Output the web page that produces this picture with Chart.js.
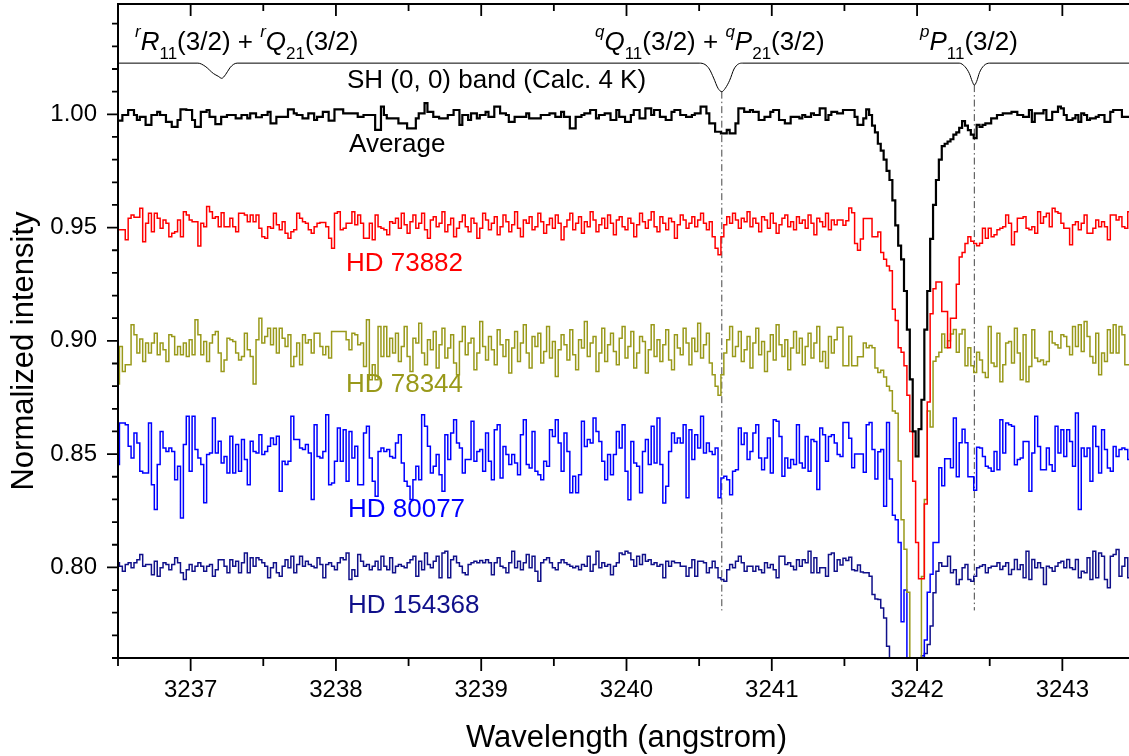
<!DOCTYPE html>
<html><head><meta charset="utf-8">
<script src="https://cdn.jsdelivr.net/npm/chart.js@4/dist/chart.umd.min.js"></script>
<style>html,body{margin:0;padding:0;background:#fff;overflow:hidden;}#wrap{width:1140px;height:756px;}</style>
</head><body><div id="wrap"><canvas id="c" width="1140" height="756"></canvas></div>
<script>
// ---- wavelength grid of the spectra (angstrom) ----
const waveStart = 3236.5;
const waveStep = 0.02;

// ---- spectra (normalized intensity), one value per grid step ----
const average = [
0.9972,0.9972,0.9997,0.9997,1.0019,1.0019,0.9997,0.9975,0.9989,0.9989,0.9953,0.9953,0.9997,0.9997,1.0011,0.9997,0.9997,0.9967,0.9967,0.9945,
0.9945,0.9975,1.0022,1.0022,1.0019,1.0019,0.9975,0.9945,0.9945,1.0011,1.0011,1.0019,0.9989,0.9989,0.9957,0.9957,0.9989,0.9989,0.9997,0.9997,
0.9997,0.9982,0.9982,0.9997,0.9997,0.9982,1.0004,1.0004,0.9987,0.9987,0.9997,0.9997,1.0011,0.9960,0.9960,0.9989,0.9989,0.9989,0.9989,1.0022,
1.0022,1.0004,0.9997,0.9997,0.9982,0.9982,1.0004,1.0004,0.9975,0.9989,0.9989,1.0011,1.0011,0.9972,0.9972,1.0022,1.0022,1.0022,1.0004,1.0004,
1.0004,1.0004,1.0004,0.9989,0.9989,0.9997,0.9997,0.9997,0.9997,0.9931,0.9931,1.0034,0.9997,0.9982,0.9982,0.9982,0.9982,0.9960,0.9960,0.9960,
0.9938,0.9938,0.9938,0.9982,1.0004,1.0004,1.0049,1.0011,1.0011,0.9989,0.9989,0.9982,0.9982,0.9982,0.9997,0.9997,1.0019,1.0019,0.9953,0.9997,
0.9997,0.9975,1.0004,1.0004,0.9982,0.9997,0.9997,1.0011,0.9989,0.9989,1.0034,1.0034,1.0004,1.0004,0.9997,0.9967,0.9967,0.9989,0.9989,0.9989,
0.9989,1.0004,0.9982,0.9982,0.9982,0.9982,0.9997,0.9997,0.9997,1.0004,1.0004,0.9989,0.9989,1.0011,0.9989,0.9989,0.9938,0.9938,0.9989,0.9989,
0.9997,1.0004,1.0004,1.0019,1.0019,0.9982,0.9997,0.9997,1.0004,1.0004,0.9975,0.9975,1.0019,0.9989,0.9989,0.9967,0.9967,0.9997,1.0019,1.0019,
0.9982,0.9982,1.0026,1.0026,0.9997,1.0019,1.0019,0.9989,0.9989,0.9975,0.9975,1.0011,1.0019,1.0019,0.9997,0.9997,0.9989,0.9989,0.9997,1.0004,
1.0004,1.0034,1.0034,1.0004,0.9960,0.9960,0.9923,0.9923,0.9916,0.9916,0.9931,0.9916,0.9916,0.9960,1.0026,1.0026,1.0011,1.0011,1.0019,1.0011,
1.0011,0.9975,0.9975,0.9989,0.9989,1.0011,1.0019,1.0019,0.9975,0.9975,0.9960,0.9960,0.9989,0.9989,0.9989,0.9982,0.9997,0.9989,0.9989,1.0004,
0.9997,0.9997,1.0026,1.0026,0.9975,0.9997,1.0011,1.0011,1.0004,1.0004,1.0019,1.0019,1.0019,1.0019,0.9989,0.9953,0.9953,0.9982,1.0022,0.9997,
0.9950,0.9920,0.9870,0.9840,0.9800,0.9750,0.9710,0.9620,0.9510,0.9420,0.9360,0.9220,0.9050,0.8830,0.8600,0.8490,0.8610,0.8740,0.9050,0.9220,
0.9450,0.9600,0.9710,0.9800,0.9860,0.9870,0.9880,0.9890,0.9910,0.9920,0.9940,0.9970,0.9950,0.9930,0.9910,0.9895,0.9953,0.9945,0.9953,0.9960,
0.9960,0.9982,0.9982,0.9997,0.9997,1.0004,1.0004,1.0004,1.0011,1.0011,0.9997,0.9997,0.9989,0.9989,1.0019,0.9967,1.0004,1.0004,1.0004,1.0019,
0.9975,0.9975,1.0011,1.0011,1.0034,1.0026,0.9997,0.9975,0.9975,0.9982,0.9997,0.9967,1.0004,0.9997,0.9975,0.9982,0.9982,0.9989,0.9997,0.9997,
0.9967,0.9967,1.0011,1.0019,1.0019,1.0019,0.9989,0.9989,0.9989];

const hd73882 = [
0.9490,0.9490,0.9490,0.9446,0.9541,0.9556,0.9546,0.9546,0.9585,0.9438,0.9519,0.9563,0.9482,0.9563,0.9541,0.9497,0.9534,0.9519,0.9460,0.9475,
0.9482,0.9534,0.9460,0.9570,0.9556,0.9534,0.9526,0.9526,0.9419,0.9519,0.9504,0.9593,0.9570,0.9541,0.9548,0.9504,0.9566,0.9504,0.9504,0.9541,
0.9504,0.9482,0.9563,0.9563,0.9556,0.9526,0.9556,0.9526,0.9556,0.9497,0.9460,0.9453,0.9504,0.9497,0.9563,0.9512,0.9490,0.9526,0.9475,0.9453,
0.9482,0.9490,0.9563,0.9541,0.9526,0.9519,0.9490,0.9475,0.9504,0.9519,0.9522,0.9522,0.9504,0.9453,0.9409,0.9563,0.9570,0.9490,0.9497,0.9519,
0.9519,0.9570,0.9512,0.9556,0.9519,0.9453,0.9453,0.9519,0.9446,0.9556,0.9504,0.9497,0.9490,0.9468,0.9526,0.9519,0.9541,0.9497,0.9563,0.9512,
0.9475,0.9526,0.9556,0.9497,0.9519,0.9563,0.9490,0.9453,0.9534,0.9548,0.9504,0.9519,0.9570,0.9482,0.9512,0.9541,0.9460,0.9497,0.9526,0.9556,
0.9504,0.9482,0.9541,0.9519,0.9453,0.9497,0.9563,0.9534,0.9490,0.9519,0.9548,0.9468,0.9504,0.9556,0.9526,0.9482,0.9512,0.9570,0.9497,0.9460,
0.9534,0.9519,0.9548,0.9490,0.9504,0.9563,0.9526,0.9475,0.9512,0.9541,0.9497,0.9556,0.9519,0.9446,0.9504,0.9534,0.9563,0.9490,0.9519,0.9548,
0.9475,0.9526,0.9504,0.9570,0.9534,0.9482,0.9512,0.9541,0.9497,0.9556,0.9519,0.9468,0.9534,0.9548,0.9504,0.9490,0.9541,0.9519,0.9460,0.9512,
0.9563,0.9526,0.9497,0.9534,0.9570,0.9504,0.9482,0.9548,0.9519,0.9490,0.9541,0.9526,0.9453,0.9512,0.9556,0.9534,0.9497,0.9519,0.9548,0.9504,
0.9534,0.9563,0.9519,0.9490,0.9526,0.9460,0.9409,0.9380,0.9460,0.9512,0.9548,0.9519,0.9563,0.9534,0.9497,0.9541,0.9526,0.9570,0.9504,0.9541,
0.9519,0.9482,0.9548,0.9534,0.9497,0.9563,0.9519,0.9475,0.9512,0.9541,0.9556,0.9504,0.9526,0.9490,0.9548,0.9519,0.9534,0.9497,0.9556,0.9519,
0.9468,0.9541,0.9526,0.9504,0.9563,0.9490,0.9534,0.9512,0.9534,0.9534,0.9510,0.9530,0.9587,0.9565,0.9430,0.9400,0.9450,0.9540,0.9540,0.9540,
0.9460,0.9460,0.9480,0.9390,0.9360,0.9330,0.9310,0.9140,0.9090,0.8970,0.8950,0.8890,0.8760,0.8600,0.8380,0.8110,0.7950,0.7950,0.8280,0.8730,
0.9120,0.9230,0.9260,0.9260,0.9130,0.9130,0.8970,0.9100,0.9100,0.9250,0.9370,0.9390,0.9430,0.9460,0.9440,0.9430,0.9420,0.9431,0.9497,0.9453,
0.9497,0.9460,0.9468,0.9490,0.9497,0.9504,0.9556,0.9519,0.9424,0.9482,0.9541,0.9541,0.9548,0.9497,0.9490,0.9504,0.9475,0.9570,0.9519,0.9548,
0.9563,0.9504,0.9585,0.9570,0.9563,0.9519,0.9497,0.9497,0.9424,0.9512,0.9526,0.9490,0.9519,0.9556,0.9475,0.9475,0.9497,0.9534,0.9504,0.9526,
0.9504,0.9446,0.9556,0.9556,0.9534,0.9548,0.9504,0.9497,0.9570];

const hd78344 = [
0.8810,0.8975,0.8865,0.8894,0.8894,0.9071,0.9027,0.8946,0.9008,0.8909,0.8990,0.8946,0.8990,0.9034,0.8939,0.8990,0.8961,0.8909,0.9027,0.9019,
0.8939,0.8975,0.8939,0.8990,0.8931,0.9005,0.8939,0.9093,0.9027,0.8939,0.8997,0.8909,0.8990,0.9027,0.9041,0.8946,0.8865,0.8916,0.9012,0.9005,
0.8997,0.8946,0.8916,0.8931,0.9034,0.8961,0.8931,0.8810,0.9005,0.9100,0.8990,0.9019,0.9056,0.8983,0.9056,0.8946,0.9056,0.9012,0.8975,0.9027,
0.8887,0.8931,0.8990,0.8894,0.9027,0.8990,0.9005,0.8946,0.9034,0.9034,0.8975,0.8939,0.8975,0.8924,0.9041,0.9041,0.9041,0.9041,0.9041,0.9005,
0.8961,0.9034,0.9027,0.8983,0.8990,0.8887,0.9093,0.8828,0.8894,0.8828,0.9063,0.8931,0.9063,0.8931,0.9012,0.8946,0.9034,0.8909,0.8975,0.9063,
0.8931,0.8865,0.9012,0.8990,0.9078,0.8946,0.8894,0.9005,0.8961,0.9041,0.8880,0.8983,0.9056,0.8924,0.8968,0.9027,0.8902,0.8850,0.8997,0.9063,
0.8939,0.8990,0.9012,0.8872,0.8946,0.9085,0.8975,0.8916,0.9019,0.8961,0.8894,0.9049,0.8983,0.8931,0.9005,0.8858,0.8968,0.9041,0.8909,0.8990,
0.9071,0.8946,0.8880,0.9019,0.8975,0.9034,0.8902,0.8953,0.9063,0.8924,0.8997,0.8843,0.8961,0.9027,0.8983,0.8916,0.9049,0.8939,0.8872,0.9005,
0.8968,0.9085,0.8931,0.8990,0.9019,0.8865,0.8946,0.9056,0.8909,0.8983,0.9034,0.8953,0.8894,0.9012,0.9063,0.8924,0.8975,0.9041,0.8880,0.8946,
0.9019,0.8997,0.8858,0.8961,0.9071,0.8931,0.9005,0.8909,0.8983,0.9049,0.8916,0.8872,0.9027,0.8968,0.8939,0.9056,0.8990,0.8894,0.9012,0.8953,
0.9078,0.8924,0.8983,0.9034,0.8902,0.8850,0.8800,0.8760,0.8850,0.8946,0.9005,0.9063,0.8931,0.8975,0.9041,0.8909,0.8961,0.9019,0.8880,0.8990,
0.9056,0.8939,0.8997,0.8865,0.8953,0.9027,0.8916,0.9071,0.8983,0.8931,0.9005,0.8872,0.8968,0.9041,0.8946,0.9012,0.8894,0.8975,0.9034,0.8924,
0.8990,0.9063,0.8909,0.8953,0.8880,0.9019,0.8946,0.9005,0.9060,0.9060,0.8890,0.8890,0.9020,0.8890,0.8890,0.8930,0.8930,0.8990,0.8970,0.8980,
0.8970,0.8880,0.8860,0.8870,0.8840,0.8800,0.8780,0.8690,0.8680,0.8470,0.8210,0.8080,0.7890,0.7400,0.7400,0.7400,0.7400,0.7960,0.8300,0.8690,
0.8620,0.8910,0.8930,0.8950,0.9030,0.8970,0.9000,0.9030,0.9050,0.8950,0.9030,0.9050,0.8890,0.8970,0.8890,0.8860,0.8950,0.8916,0.8860,0.8838,
0.9063,0.8902,0.8887,0.9034,0.8820,0.8894,0.8990,0.8997,0.8902,0.9056,0.8946,0.8828,0.9027,0.8820,0.8887,0.9049,0.8924,0.8909,0.8916,0.8894,
0.8909,0.9041,0.8990,0.8983,0.8968,0.9027,0.9019,0.8975,0.8939,0.9063,0.8975,0.9071,0.8953,0.9085,0.9019,0.8931,0.8902,0.9034,0.8850,0.8946,
0.8909,0.9049,0.8946,0.9071,0.8946,0.9063,0.9027,0.8894,0.8894];

const hd80077 = [
0.8454,0.8637,0.8637,0.8630,0.8535,0.8483,0.8593,0.8549,0.8424,0.8417,0.8417,0.8637,0.8365,0.8255,0.8454,0.8600,0.8527,0.8512,0.8527,0.8512,
0.8387,0.8446,0.8218,0.8542,0.8667,0.8424,0.8667,0.8520,0.8483,0.8454,0.8285,0.8498,0.8505,0.8659,0.8505,0.8557,0.8461,0.8490,0.8417,0.8579,
0.8417,0.8542,0.8424,0.8564,0.8476,0.8365,0.8557,0.8512,0.8505,0.8586,0.8498,0.8512,0.8535,0.8571,0.8542,0.8579,0.8336,0.8468,0.8454,0.8468,
0.8667,0.8564,0.8564,0.8527,0.8520,0.8542,0.8505,0.8300,0.8630,0.8490,0.8483,0.8512,0.8674,0.8365,0.8373,0.8468,0.8615,0.8468,0.8608,0.8380,
0.8600,0.8483,0.8535,0.8365,0.8365,0.8593,0.8623,0.8483,0.8380,0.8314,0.8512,0.8527,0.8512,0.8520,0.8490,0.8483,0.8549,0.8586,0.8461,0.8380,
0.8358,0.8300,0.8387,0.8446,0.8387,0.8674,0.8623,0.8535,0.8417,0.8446,0.8498,0.8409,0.8336,0.8586,0.8476,0.8593,0.8652,0.8549,0.8527,0.8417,
0.8476,0.8476,0.8645,0.8468,0.8512,0.8520,0.8424,0.8593,0.8468,0.8387,0.8608,0.8630,0.8395,0.8534,0.8498,0.8454,0.8498,0.8461,0.8409,0.8586,
0.8652,0.8454,0.8439,0.8600,0.8424,0.8409,0.8387,0.8468,0.8446,0.8608,0.8578,0.8652,0.8549,0.8424,0.8593,0.8512,0.8329,0.8402,0.8329,0.8409,
0.8645,0.8534,0.8564,0.8549,0.8659,0.8600,0.8556,0.8468,0.8387,0.8498,0.8409,0.8498,0.8600,0.8527,0.8630,0.8424,0.8299,0.8556,0.8461,0.8446,
0.8329,0.8512,0.8564,0.8454,0.8623,0.8461,0.8659,0.8454,0.8284,0.8358,0.8512,0.8593,0.8549,0.8571,0.8549,0.8630,0.8307,0.8608,0.8476,0.8586,
0.8527,0.8667,0.8505,0.8549,0.8512,0.8498,0.8527,0.8307,0.8395,0.8402,0.8387,0.8321,0.8424,0.8431,0.8615,0.8542,0.8593,0.8476,0.8512,0.8593,
0.8630,0.8483,0.8431,0.8483,0.8571,0.8417,0.8652,0.8645,0.8578,0.8402,0.8483,0.8439,0.8476,0.8454,0.8630,0.8461,0.8439,0.8578,0.8424,0.8564,
0.8556,0.8344,0.8615,0.8586,0.8468,0.8578,0.8586,0.8549,0.8498,0.8490,0.8640,0.8640,0.8570,0.8440,0.8500,0.8500,0.8500,0.8420,0.8630,0.8640,
0.8520,0.8390,0.8510,0.8520,0.8270,0.8640,0.8390,0.8230,0.8210,0.8110,0.7760,0.7900,0.7400,0.7400,0.7400,0.7400,0.7400,0.7610,0.7680,0.7890,
0.7970,0.8110,0.8110,0.8440,0.8360,0.8480,0.8480,0.8440,0.8660,0.8400,0.8550,0.8610,0.8550,0.8400,0.8400,0.8340,0.8530,0.8527,0.8490,0.8446,
0.8439,0.8424,0.8512,0.8431,0.8652,0.8505,0.8637,0.8630,0.8623,0.8453,0.8476,0.8483,0.8556,0.8556,0.8336,0.8505,0.8667,0.8534,0.8431,0.8431,
0.8527,0.8453,0.8424,0.8623,0.8505,0.8608,0.8490,0.8608,0.8556,0.8446,0.8681,0.8255,0.8527,0.8490,0.8527,0.8380,0.8623,0.8534,0.8417,0.8608,
0.8520,0.8439,0.8424,0.8534,0.8490,0.8520,0.8527,0.8520,0.8476];

const hd154368 = [
0.8020,0.8005,0.7983,0.8013,0.8020,0.7998,0.8020,0.8034,0.8057,0.8005,0.8013,0.8013,0.7968,0.8027,0.7961,0.7998,0.8020,0.8013,0.7990,0.8013,
0.8042,0.8020,0.7976,0.7946,0.7990,0.8013,0.7983,0.8005,0.8020,0.8005,0.7983,0.8005,0.8013,0.7961,0.7990,0.8034,0.8034,0.8005,0.7976,0.8034,
0.8005,0.8027,0.7976,0.8020,0.8064,0.7976,0.8042,0.8005,0.8042,0.8034,0.8020,0.8005,0.7954,0.7998,0.8020,0.7976,0.7961,0.8005,0.8034,0.7998,
0.8049,0.7976,0.8013,0.8049,0.8005,0.8027,0.8013,0.8005,0.7998,0.8042,0.8013,0.7954,0.8013,0.8020,0.8005,0.7990,0.8020,0.8042,0.8034,0.8064,
0.7946,0.7990,0.7961,0.8057,0.8027,0.8005,0.8013,0.7990,0.8005,0.8027,0.7990,0.8049,0.8005,0.7990,0.8042,0.7976,0.8005,0.8013,0.8005,0.7998,
0.8020,0.8034,0.8049,0.7961,0.8027,0.7990,0.8064,0.8013,0.7998,0.8027,0.8049,0.7954,0.8064,0.8071,0.7954,0.8034,0.8049,0.8020,0.8005,0.7976,
0.7968,0.8013,0.8020,0.8027,0.8020,0.8030,0.8020,0.8034,0.8020,0.7968,0.8020,0.8042,0.8005,0.7998,0.7976,0.8020,0.8071,0.7998,0.8027,0.7990,
0.8020,0.8057,0.7998,0.8049,0.7983,0.7939,0.8020,0.8034,0.8042,0.8020,0.7998,0.7990,0.8020,0.8034,0.8020,0.8013,0.8005,0.7998,0.8005,0.7990,
0.8013,0.8005,0.8049,0.7983,0.8013,0.8071,0.7998,0.8020,0.8005,0.8013,0.7968,0.8005,0.8020,0.8064,0.8057,0.8071,0.8064,0.8034,0.8005,0.8049,
0.8013,0.8057,0.8027,0.8034,0.8013,0.8020,0.8005,0.8013,0.7954,0.8027,0.8005,0.8027,0.8020,0.8020,0.8005,0.8005,0.7961,0.7998,0.8034,0.7961,
0.8027,0.8027,0.8020,0.7976,0.7998,0.8027,0.7998,0.7954,0.7946,0.7939,0.7990,0.8013,0.7998,0.8027,0.8049,0.8020,0.7983,0.8005,0.8005,0.7983,
0.8005,0.7990,0.7976,0.8020,0.7998,0.8013,0.7990,0.7954,0.8049,0.8049,0.8013,0.8020,0.8005,0.7990,0.8034,0.8005,0.8034,0.8020,0.8071,0.7976,
0.8042,0.7976,0.7998,0.7998,0.7961,0.8057,0.8064,0.7983,0.8034,0.8010,0.8040,0.8030,0.8045,0.7990,0.7985,0.8010,0.7980,0.7976,0.7976,0.7961,
0.7880,0.7860,0.7858,0.7821,0.7777,0.7652,0.7400,0.7400,0.7400,0.7400,0.7400,0.7400,0.7400,0.7400,0.7400,0.7400,0.7400,0.7500,0.7620,0.7660,
0.7741,0.7888,0.7983,0.8020,0.8005,0.8005,0.8049,0.7976,0.7990,0.7924,0.7946,0.7998,0.8013,0.7946,0.7939,0.7961,0.7998,0.8005,0.8012,0.7976,
0.7998,0.8005,0.8005,0.8020,0.7991,0.8005,0.8020,0.7969,0.7991,0.8035,0.7991,0.8012,0.7954,0.8071,0.7946,0.8035,0.7998,0.8020,0.7998,0.7924,
0.8005,0.7998,0.7983,0.8005,0.8020,0.8027,0.7998,0.8035,0.7998,0.7991,0.8035,0.7954,0.7983,0.7976,0.8042,0.7946,0.8071,0.7954,0.8064,0.8049,
0.7946,0.7910,0.8049,0.8057,0.8079,0.7961,0.8005,0.8042,0.7954];

// ---- calculated SH (0,0) band profile (shown offset above the spectra) ----
const calcWave  = [3236.50,3237.05,3237.10,3237.157,3237.19,3237.214,3237.24,3237.27,3237.294,3237.32,
                   3240.50,3240.54,3240.57,3240.60,3240.63,3240.656,3240.68,3240.71,3240.74,3240.77,3240.80,
                   3242.29,3242.33,3242.36,3242.38,3242.394,3242.41,3242.43,3242.46,3242.50,3243.50];
const calcValue = [1.0226,1.0226,1.0212,1.0180,1.0168,1.0159,1.0175,1.0205,1.0220,1.0226,
                   1.0226,1.0220,1.0200,1.0160,1.0115,1.0100,1.0115,1.0150,1.0200,1.0222,1.0226,
                   1.0226,1.0210,1.0180,1.0145,1.0129,1.0145,1.0185,1.0215,1.0226,1.0226];

// ---- line positions marked by dash-dot lines ----
const markWave = [3240.656, 3242.394];
const markTop = [1.0100, 1.0129];
const markBottom = [0.781, 0.781];

// ---- axis ticks ----
const xTickValues = [3237, 3238, 3239, 3240, 3241, 3242, 3243];
const yTickValues = [0.80, 0.85, 0.90, 0.95, 1.00];

const seriesNames = ['Average', 'HD 73882', 'HD 78344', 'HD 80077', 'HD 154368'];
const seriesColors = ['#000000', '#ff0000', '#99991a', '#0000ff', '#10108a'];

const FONT = '"Liberation Sans", Arial, sans-serif';
const toXY = arr => arr.map((v, i) => ({x: +(waveStart + i * waveStep).toFixed(3), y: v}));

const spectra = [average, hd73882, hd78344, hd80077, hd154368];
const datasets = spectra.map((arr, k) => ({
  label: seriesNames[k],
  data: toXY(arr),
  borderColor: seriesColors[k],
  borderWidth: k === 0 ? 2.2 : 1.5,
  pointRadius: 0,
  stepped: 'middle',
  fill: false,
  clip: 0
}));
datasets.push({
  label: 'SH (0, 0) band (Calc. 4 K)',
  data: calcWave.map((w, i) => ({x: w, y: calcValue[i]})),
  borderColor: '#000', borderWidth: 1, pointRadius: 0,
  cubicInterpolationMode: 'monotone', fill: false, clip: 0
});
markWave.forEach((w, i) => datasets.push({
  label: 'mark' + i,
  data: [{x: w, y: markTop[i]}, {x: w, y: markBottom[i]}],
  borderColor: '#444', borderWidth: 1, borderDash: [7, 3, 1.5, 3],
  pointRadius: 0, fill: false, clip: 0
}));

// rich-text annotation helper
function drawRich(ctx, x, y, parts, color) {
  let cx = x;
  ctx.fillStyle = color; ctx.textBaseline = 'alphabetic'; ctx.textAlign = 'left';
  for (const p of parts) {
    let dy = 0;
    if (p.s === 'sup') { ctx.font = 'italic 17px ' + FONT; dy = -13; }
    else if (p.s === 'sub') { ctx.font = '17px ' + FONT; dy = 9; }
    else if (p.s === 'it') ctx.font = 'italic 26px ' + FONT;
    else ctx.font = '26px ' + FONT;
    ctx.fillText(p.t, cx, y + dy);
    cx += ctx.measureText(p.t).width;
  }
}

const bandLabels = [
  {x: 3236.617, y: 1.0284, parts: [{t:'r',s:'sup'},{t:'R',s:'it'},{t:'11',s:'sub'},{t:'(3/2) + ',s:'n'},{t:'r',s:'sup'},{t:'Q',s:'it'},{t:'21',s:'sub'},{t:'(3/2)',s:'n'}]},
  {x: 3239.783, y: 1.0284, parts: [{t:'q',s:'sup'},{t:'Q',s:'it'},{t:'11',s:'sub'},{t:'(3/2) + ',s:'n'},{t:'q',s:'sup'},{t:'P',s:'it'},{t:'21',s:'sub'},{t:'(3/2)',s:'n'}]},
  {x: 3242.020, y: 1.0284, parts: [{t:'p',s:'sup'},{t:'P',s:'it'},{t:'11',s:'sub'},{t:'(3/2)',s:'n'}]},
  {x: 3238.076, y: 1.0116, parts: [{t:'SH (0, 0) band (Calc. 4 K)',s:'n'}]}
];
const seriesLabelPos = [
  {x: 3238.090, y: 0.9835},
  {x: 3238.069, y: 0.9309},
  {x: 3238.069, y: 0.8774},
  {x: 3238.083, y: 0.8223},
  {x: 3238.083, y: 0.7799}
];

const annotate = {
  id: 'annotate',
  afterDatasetsDraw(chart) {
    const {ctx, scales: {x, y}} = chart;
    ctx.save();
    bandLabels.forEach(l => drawRich(ctx, x.getPixelForValue(l.x), y.getPixelForValue(l.y), l.parts, '#000'));
    seriesLabelPos.forEach((p, k) => drawRich(ctx, x.getPixelForValue(p.x), y.getPixelForValue(p.y), [{t: seriesNames[k], s: 'n'}], seriesColors[k]));
    ctx.restore();
  },
  afterDraw(chart) {
    const {ctx, chartArea: a, scales: {x, y}} = chart;
    ctx.save();
    ctx.strokeStyle = '#000';
    ctx.lineWidth = 2;
    ctx.beginPath();
    ctx.moveTo(a.left - 1, a.top); ctx.lineTo(a.right, a.top);
    ctx.moveTo(a.left, a.top); ctx.lineTo(a.left, a.bottom + 1);
    ctx.moveTo(a.left - 1, a.bottom); ctx.lineTo(a.right, a.bottom);
    ctx.stroke();
    ctx.lineWidth = 1.8;
    ctx.beginPath();
    for (let k = Math.ceil(x.min * 2); k <= Math.floor(x.max * 2); k++) {
      const px = x.getPixelForValue(k / 2);
      const major = k % 2 === 0;
      ctx.moveTo(px, a.bottom); ctx.lineTo(px, a.bottom + (major ? 13 : 8));
      ctx.moveTo(px, a.top); ctx.lineTo(px, a.top + (major ? 12 : 7));
    }
    for (let k = Math.ceil(y.min * 100 - 1e-6); k <= Math.floor(y.max * 100 + 1e-6); k++) {
      const py = y.getPixelForValue(k / 100);
      const major = k % 5 === 0;
      ctx.moveTo(a.left, py); ctx.lineTo(a.left - (major ? 11 : 6), py);
    }
    ctx.stroke();
    ctx.fillStyle = '#000';
    ctx.font = '31px ' + FONT;
    ctx.textAlign = 'center'; ctx.textBaseline = 'alphabetic';
    ctx.fillText('Wavelength (angstrom)', (a.left + a.right) / 2, 747);
    ctx.translate(33, 351);
    ctx.rotate(-Math.PI / 2);
    ctx.fillText('Normalized intensity', 0, 0);
    ctx.restore();
  }
};

const chart = new Chart(document.getElementById('c'), {
  type: 'line',
  data: {datasets},
  options: {
    responsive: false, animation: false, events: [],
    layout: {padding: {left: 0, right: 5, top: 4, bottom: 0}, autoPadding: false},
    plugins: {legend: {display: false}, tooltip: {enabled: false}},
    scales: {
      x: {
        type: 'linear', min: 3236.5, max: 3243.5,
        grid: {display: false, drawTicks: false}, border: {display: false},
        afterBuildTicks: s => { s.ticks = xTickValues.map(v => ({value: v})); },
        afterFit: s => { s.height = 98; s.paddingLeft = 0; s.paddingRight = 0; },
        ticks: {padding: 18, color: '#000', font: {family: FONT, size: 24}, maxRotation: 0, autoSkip: false,
                callback: v => v.toFixed(0)}
      },
      y: {
        type: 'linear', min: 0.760, max: 1.0487,
        grid: {display: false, drawTicks: false}, border: {display: false},
        afterBuildTicks: s => { s.ticks = yTickValues.map(v => ({value: v})); },
        afterFit: s => { s.width = 118; s.paddingTop = 0; s.paddingBottom = 0; },
        ticks: {padding: 21, color: '#000', font: {family: FONT, size: 24}, autoSkip: false,
                callback: v => v.toFixed(2)}
      }
    }
  },
  plugins: [annotate]
});

// pin the plot area to the reference frame (left 118, right 1135, top 4, bottom 658)
(function pinArea() {
  const want = {left: 118, right: 1135, top: 4, bottom: 658};
  const p = chart.options.layout.padding;
  for (let iter = 0; iter < 3; iter++) {
    const ca = chart.chartArea;
    const dT = want.top - ca.top, dB = ca.bottom - want.bottom, dL = want.left - ca.left, dR = ca.right - want.right;
    if (Math.abs(dT) < 0.5 && Math.abs(dB) < 0.5 && Math.abs(dL) < 0.5 && Math.abs(dR) < 0.5) break;
    p.top += dT; p.bottom += dB; p.left += dL; p.right += dR;
    chart.update('none');
  }
})();
</script></body></html>
